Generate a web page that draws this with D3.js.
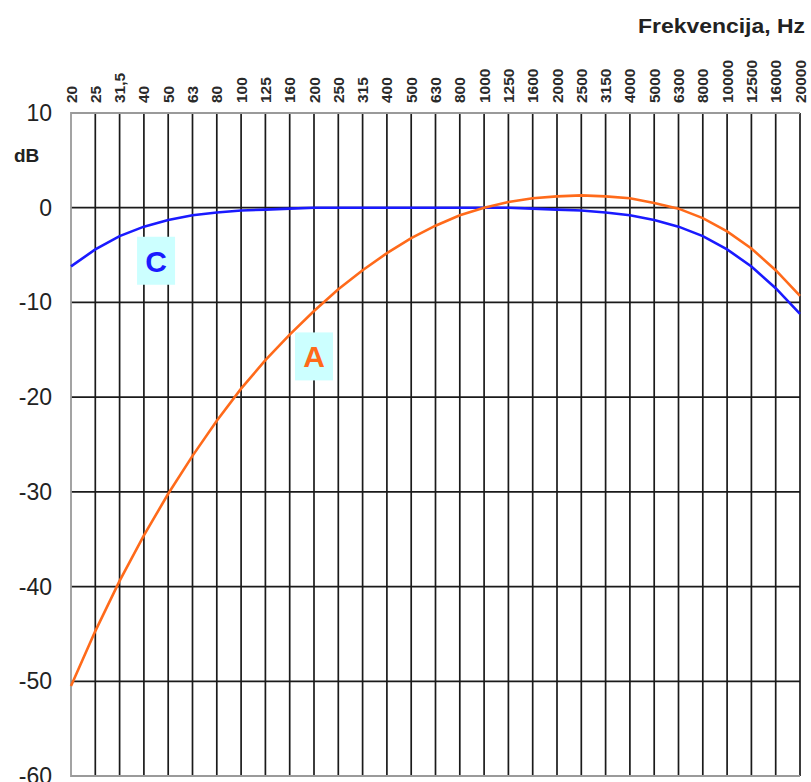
<!DOCTYPE html>
<html>
<head>
<meta charset="utf-8">
<script src="https://cdn.jsdelivr.net/npm/d3@7"></script>
<style>
  body { margin: 0; background: #fff; }
  text { font-family: Arial, "Liberation Sans", sans-serif; }
</style>
</head>
<body>
<div id="chart"></div>
<script>
let width = 811;
let height = 782;

// tercne frekvencije, Hz
let freqs = ['20','25','31,5','40','50','63','80','100','125','160','200','250','315','400','500','630','800',
             '1000','1250','1600','2000','2500','3150','4000','5000','6300','8000','10000','12500','16000','20000'];
// A i C krivulje, dB
let curveA = [-50.5,-44.7,-39.4,-34.6,-30.2,-26.2,-22.5,-19.1,-16.1,-13.4,-10.9,-8.6,-6.6,-4.8,-3.2,-1.9,-0.8,
              0,0.6,1.0,1.2,1.3,1.2,1.0,0.5,-0.1,-1.1,-2.5,-4.3,-6.6,-9.3];
let curveC = [-6.2,-4.4,-3.0,-2.0,-1.3,-0.8,-0.5,-0.3,-0.2,-0.1,0,0,0,0,0,0,0,
              0,0,-0.1,-0.2,-0.3,-0.5,-0.8,-1.3,-2.0,-3.0,-4.4,-6.2,-8.5,-11.2];
let yTicks = [10,0,-10,-20,-30,-40,-50,-60];

let svg = d3.select('#chart').append('svg')
    .attr('width', width)
    .attr('height', height);

let x = d3.scalePoint().domain(freqs).range([71, 800]);
let y = d3.scaleLinear().domain([-60, 10]).range([776, 113]);

// vertikalne linije
svg.append('g').selectAll('line')
    .data(freqs.slice(1))
    .enter().append('line')
    .attr('x1', d => x(d)).attr('x2', d => x(d))
    .attr('y1', y(10)).attr('y2', y(-60))
    .attr('stroke', '#1a1a1a').attr('stroke-width', 1.7);

// horizontalne linije
svg.append('g').selectAll('line')
    .data([0,-10,-20,-30,-40,-50])
    .enter().append('line')
    .attr('x1', x('20')).attr('x2', x('20000'))
    .attr('y1', d => y(d)).attr('y2', d => y(d))
    .attr('stroke', '#1a1a1a').attr('stroke-width', 1.7);

// okvir (lijevo, gore, dolje)
svg.append('path')
    .attr('d', 'M' + x('20000') + ',' + y(10) + 'H' + x('20') + 'V' + y(-60) + 'H' + x('20000'))
    .attr('fill', 'none').attr('stroke', '#9a9a9a').attr('stroke-width', 1.8);

// oznake osi x
svg.append('g').selectAll('text')
    .data(freqs)
    .enter().append('text')
    .attr('transform', d => 'translate(' + (x(d) + 5.5) + ',103) rotate(-90)')
    .attr('text-anchor', 'start')
    .style('font-size', '15.5px')
    .style('font-weight', 'bold')
    .style('fill', '#2a2a2a')
    .text(d => d);

// oznake osi y
svg.append('g').selectAll('text')
    .data(yTicks)
    .enter().append('text')
    .attr('x', 52)
    .attr('y', d => y(d) + 8)
    .attr('text-anchor', 'end')
    .style('font-size', '23px')
    .style('fill', '#222')
    .text(d => d);

svg.append('text')
    .attr('x', 14).attr('y', 162)
    .style('font-size', '19px').style('font-weight', 'bold').style('fill', '#222')
    .text('dB');

svg.append('text')
    .attr('x', 805).attr('y', 33)
    .attr('text-anchor', 'end')
    .attr('textLength', 167).attr('lengthAdjust', 'spacingAndGlyphs')
    .style('font-size', '21px').style('font-weight', 'bold').style('fill', '#222')
    .text('Frekvencija, Hz');

// krivulje
let line = d3.line()
    .x((d, i) => x(freqs[i]))
    .y(d => y(d));

svg.append('path')
    .datum(curveC)
    .attr('d', line)
    .attr('fill', 'none').attr('stroke', '#1a1aff').attr('stroke-width', 2.6);

svg.append('path')
    .datum(curveA)
    .attr('d', line)
    .attr('fill', 'none').attr('stroke', '#ff6a1a').attr('stroke-width', 2.6);

// natpisi krivulja
let labels = [
    {t: 'C', x0: '40', x1: '50', dB: -5.6, color: '#1a1aff'},
    {t: 'A', x0: '160', x1: '250', dB: -15.7, color: '#ff6a1a'}
];
labels.forEach(function (l) {
    let cx = (x(l.x0) + x(l.x1)) / 2;
    let cy = y(l.dB);
    svg.append('rect')
        .attr('x', cx - 19).attr('y', cy - 24)
        .attr('width', 38).attr('height', 48)
        .attr('fill', '#ccffff');
    svg.append('text')
        .attr('x', cx).attr('y', cy + 11)
        .attr('text-anchor', 'middle')
        .style('font-size', '30px').style('font-weight', 'bold')
        .style('fill', l.color)
        .text(l.t);
});
</script>
</body>
</html>
